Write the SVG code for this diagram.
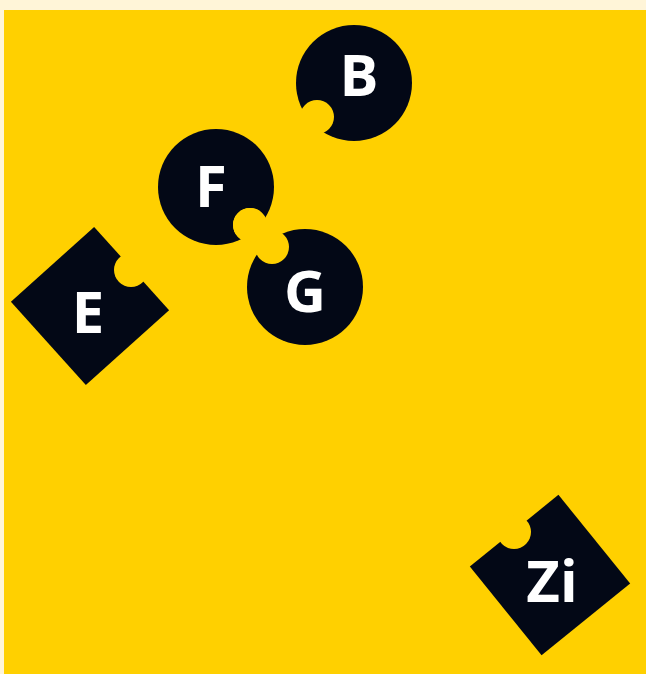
<svg xmlns="http://www.w3.org/2000/svg" width="646" height="674" viewBox="0 0 646 674">
<style>
.node{fill:#030816}
.bite{fill:#ffd000}
.lbl{fill:#ffffff;font-family:"Open Sans","Liberation Sans",sans-serif;font-weight:700;font-size:58px;text-anchor:middle}
</style>
<rect x="0" y="0" width="646" height="674" fill="#fff5d8"/>
<rect x="4" y="10" width="642" height="664" fill="#ffd000"/>
<g id="node-B">
<circle class="node" cx="354" cy="83" r="58"/>
<circle class="bite" cx="317" cy="117" r="17"/>
<text class="lbl" x="359" y="96">B</text>
</g>
<g id="node-F">
<circle class="node" cx="216" cy="187" r="58"/>
<circle class="bite" cx="250" cy="225" r="17"/>
<text class="lbl" x="211" y="207">F</text>
</g>
<g id="node-G">
<circle class="node" cx="305" cy="287" r="58"/>
<circle class="bite" cx="272" cy="247" r="17"/>
<circle class="bite" cx="250" cy="225" r="17"/>
<text class="lbl" x="305" y="312">G</text>
</g>
<g id="node-E">
<rect class="node" x="-56" y="-56" width="112" height="112" transform="translate(90 306) rotate(48)"/>
<circle class="bite" cx="131" cy="270" r="17"/>
<text class="lbl" x="88" y="333">E</text>
</g>
<g id="node-Zi">
<rect class="node" x="-57" y="-57" width="114" height="114" transform="translate(550 575) rotate(51)"/>
<circle class="bite" cx="514" cy="532" r="17"/>
<text class="lbl" x="552" y="602">Zi</text>
</g>
</svg>
